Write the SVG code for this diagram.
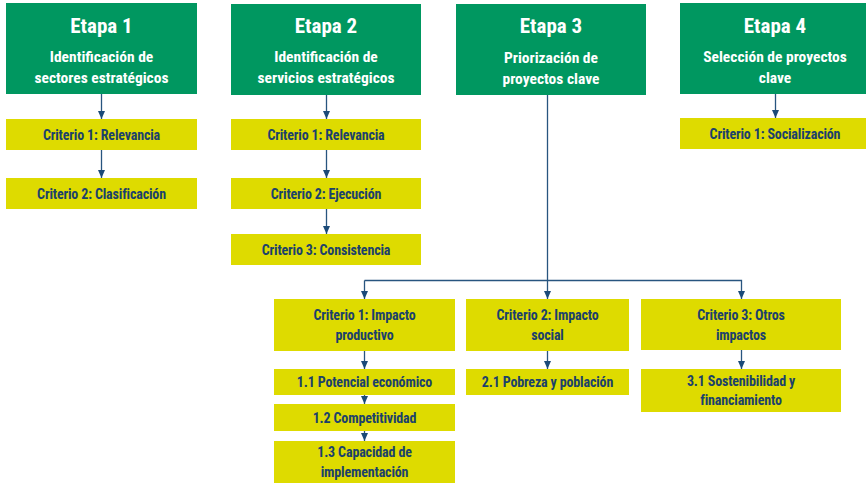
<svg xmlns="http://www.w3.org/2000/svg" width="866" height="484" viewBox="0 0 866 484">
<style>
.g{fill:#009760}
.y{fill:#dedb00}
.h{font-family:"Liberation Sans Narrow","Roboto Condensed","DejaVu Sans Condensed","Liberation Sans",sans-serif;font-weight:bold;fill:#fff;text-anchor:middle}
.t1{font-size:21px}
.t2{font-size:15.5px}
.c{font-family:"Liberation Sans Narrow","Roboto Condensed","DejaVu Sans Condensed","Liberation Sans",sans-serif;font-weight:bold;font-size:14px;letter-spacing:-0.15px;fill:#1b416b;text-anchor:middle}
.ln{stroke:#28557f;stroke-width:1.3;fill:none}
</style>
<defs>
<marker id="a" viewBox="0 0 8 7" refX="8" refY="3.5" markerWidth="8" markerHeight="7" markerUnits="userSpaceOnUse" orient="auto">
<path d="M0,0L8,3.5L0,7z" fill="#1b4a78"/>
</marker>
</defs>
<rect width="866" height="484" fill="#fff"/>

<g id="etapa1">
<rect class="g" x="6" y="3" width="191" height="91"/>
<text class="h t1" x="101.5" y="33">Etapa 1</text>
<text class="h t2" x="101.5" y="62">Identificación de</text>
<text class="h t2" x="101.5" y="83">sectores estratégicos</text>
</g>
<g id="e1c1"><rect class="y" x="6" y="119" width="191" height="31"/><text class="c" x="101.5" y="139.5">Criterio 1: Relevancia</text></g>
<g id="e1c2"><rect class="y" x="6" y="178" width="191" height="31"/><text class="c" x="101.5" y="198.5">Criterio 2: Clasificación</text></g>

<g id="etapa2">
<rect class="g" x="231" y="4" width="190" height="91"/>
<text class="h t1" x="326" y="33">Etapa 2</text>
<text class="h t2" x="326" y="62">Identificación de</text>
<text class="h t2" x="326" y="83">servicios estratégicos</text>
</g>
<g id="e2c1"><rect class="y" x="231" y="119" width="190" height="31"/><text class="c" x="326" y="139.5">Criterio 1: Relevancia</text></g>
<g id="e2c2"><rect class="y" x="231" y="178" width="190" height="31"/><text class="c" x="326" y="198.5">Criterio 2: Ejecución</text></g>
<g id="e2c3"><rect class="y" x="231" y="234" width="190" height="31"/><text class="c" x="326" y="254.5">Criterio 3: Consistencia</text></g>

<g id="etapa3">
<rect class="g" x="456" y="4" width="190" height="91"/>
<text class="h t1" x="551" y="33">Etapa 3</text>
<text class="h t2" x="551" y="63">Priorización de</text>
<text class="h t2" x="551" y="84">proyectos clave</text>
</g>

<g id="etapa4">
<rect class="g" x="680" y="3" width="186" height="91"/>
<text class="h t1" x="775" y="33">Etapa 4</text>
<text class="h t2" x="775" y="62">Selección de proyectos</text>
<text class="h t2" x="775" y="83">clave</text>
</g>
<g id="e4c1"><rect class="y" x="680" y="118" width="186" height="31"/><text class="c" x="775" y="138.5">Criterio 1: Socialización</text></g>

<g id="e3c1"><rect class="y" x="274" y="299" width="181" height="52"/><text class="c" x="364.5" y="320">Criterio 1: Impacto</text><text class="c" x="364.5" y="340">productivo</text></g>
<g id="e3c2"><rect class="y" x="466" y="299" width="163" height="52"/><text class="c" x="547.5" y="320">Criterio 2: Impacto</text><text class="c" x="547.5" y="340">social</text></g>
<g id="e3c3"><rect class="y" x="641" y="299" width="200" height="51"/><text class="c" x="741" y="320">Criterio 3: Otros</text><text class="c" x="741" y="340">impactos</text></g>

<g id="s11"><rect class="y" x="274" y="369" width="181" height="26"/><text class="c" x="364.5" y="387">1.1 Potencial económico</text></g>
<g id="s12"><rect class="y" x="274" y="404" width="181" height="27"/><text class="c" x="364.5" y="422.5">1.2 Competitividad</text></g>
<g id="s13"><rect class="y" x="274" y="441" width="181" height="42"/><text class="c" x="364.5" y="457">1.3 Capacidad de</text><text class="c" x="364.5" y="477">implementación</text></g>
<g id="s21"><rect class="y" x="466" y="369" width="163" height="26"/><text class="c" x="547.5" y="387">2.1 Pobreza y población</text></g>
<g id="s31"><rect class="y" x="641" y="369" width="200" height="43"/><text class="c" x="741" y="386">3.1 Sostenibilidad y</text><text class="c" x="741" y="405">financiamiento</text></g>

<g id="connectors">
<path class="ln" d="M101.5,94V119" marker-end="url(#a)"/>
<path class="ln" d="M101.5,150V178" marker-end="url(#a)"/>
<path class="ln" d="M326.5,95V119" marker-end="url(#a)"/>
<path class="ln" d="M326.5,150V178" marker-end="url(#a)"/>
<path class="ln" d="M326.5,209V234" marker-end="url(#a)"/>
<path class="ln" d="M775.5,94V118" marker-end="url(#a)"/>
<path class="ln" d="M547.5,95V299" marker-end="url(#a)"/>
<path class="ln" d="M364.5,280.5H741.5V299" marker-end="url(#a)"/>
<path class="ln" d="M364.5,280.5V299" marker-end="url(#a)"/>
<path class="ln" d="M364.5,351V369" marker-end="url(#a)"/>
<path class="ln" d="M364.5,395V404" marker-end="url(#a)"/>
<path class="ln" d="M364.5,431V441" marker-end="url(#a)"/>
<path class="ln" d="M547.5,351V369" marker-end="url(#a)"/>
<path class="ln" d="M741.5,350V369" marker-end="url(#a)"/>
</g>
</svg>
